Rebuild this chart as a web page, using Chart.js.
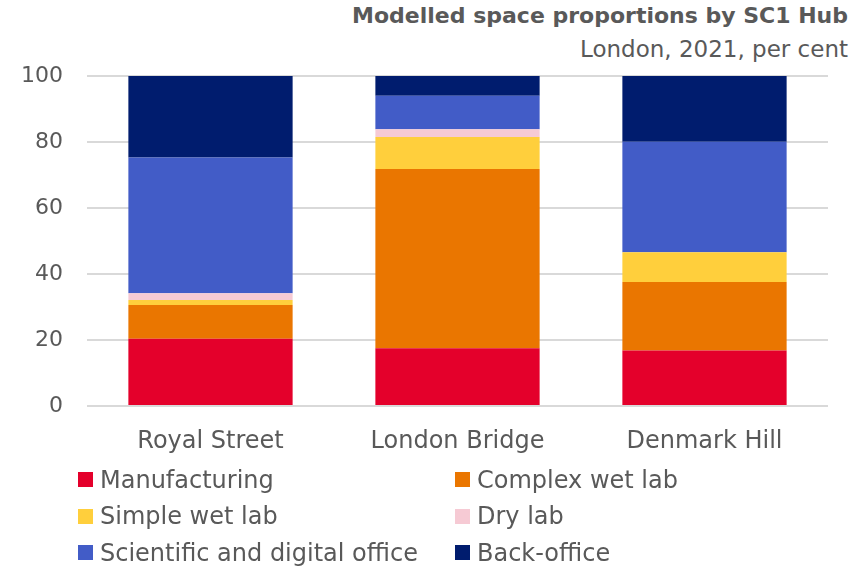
<!DOCTYPE html>
<html>
<head>
<meta charset="utf-8">
<script src="https://cdn.jsdelivr.net/npm/chart.js@4"></script>
<style>
  html, body { margin: 0; padding: 0; background: #fff; }
  body { width: 868px; height: 570px; position: relative; overflow: hidden;
         font-family: "DejaVu Sans", sans-serif; color: #595959; }
  #title { position: absolute; right: 20px; top: 3px; font-size: 22px; font-weight: bold; white-space: nowrap; }
  #subtitle { position: absolute; right: 20px; top: 36px; font-size: 23px; white-space: nowrap; }
  #wrap { position: absolute; left: 0; top: 0; width: 868px; height: 470px; }
  #legend { position: absolute; left: 78px; top: 465px; width: 780px;
            display: grid; grid-template-columns: 377px auto; row-gap: 7.5px; font-size: 24px; }
  #legend div { display: flex; align-items: center; height: 29px; white-space: nowrap; }
  #legend span.box { display: inline-block; width: 15px; height: 15px; margin-right: 7px; }
</style>
</head>
<body>
<div id="title">Modelled space proportions by SC1 Hub</div>
<div id="subtitle">London, 2021, per cent</div>
<div id="wrap"><canvas id="chart"></canvas></div>
<div id="legend"></div>
<script>
const hubs = ['Royal Street', 'London Bridge', 'Denmark Hill'];
const yTicks = [0, 20, 40, 60, 80, 100];

const manufacturing = [20.4, 17.5, 16.8];
const complexWetLab = [10.2, 54.3, 20.8];
const simpleWetLab = [1.5, 9.7, 9.0];
const dryLab = [2.1, 2.4, 0];
const scientificOffice = [41.1, 10.1, 33.5];
const backOffice = [24.7, 6.0, 19.9];

const seriesNames = ['Manufacturing', 'Complex wet lab', 'Simple wet lab', 'Dry lab',
                     'Scientific and digital office', 'Back-office'];
const seriesValues = [manufacturing, complexWetLab, simpleWetLab, dryLab, scientificOffice, backOffice];
const seriesColors = ['#E4002B', '#EA7600', '#FFCF3C', '#F6CAD4', '#425CC7', '#001C6E'];

const textColor = '#595959';
const fontFamily = '"DejaVu Sans", sans-serif';

const datasets = seriesNames.map((name, i) => ({
  label: name,
  data: seriesValues[i],
  backgroundColor: seriesColors[i],
  borderWidth: 0,
  categoryPercentage: 1,
  barPercentage: 0.665
}));

new Chart(document.getElementById('chart'), {
  type: 'bar',
  data: { labels: hubs, datasets: datasets },
  options: {
    responsive: true,
    maintainAspectRatio: false,
    animation: false,
    layout: { padding: { top: 76, right: 40, bottom: 0, left: 0 } },
    plugins: {
      legend: { display: false },
      tooltip: { enabled: false }
    },
    scales: {
      x: {
        stacked: true,
        grid: { display: false },
        border: { display: false },
        ticks: { color: textColor, font: { family: fontFamily, size: 24 }, padding: 13 },
        afterFit: (scale) => { scale.height = 64; }
      },
      y: {
        stacked: true,
        min: 0,
        max: 100,
        afterBuildTicks: (scale) => { scale.ticks = yTicks.map(v => ({ value: v })); },
        grid: { color: '#d9d9d9', lineWidth: 2, drawTicks: false },
        border: { display: false },
        ticks: { color: textColor, font: { family: fontFamily, size: 22 }, padding: 24 },
        afterFit: (scale) => { scale.width = 87; }
      }
    }
  }
});

// two-column legend, row by row
const legendEl = document.getElementById('legend');
seriesNames.forEach((name, i) => {
  const item = document.createElement('div');
  const box = document.createElement('span');
  box.className = 'box';
  box.style.background = seriesColors[i];
  item.appendChild(box);
  item.appendChild(document.createTextNode(name));
  legendEl.appendChild(item);
});
</script>
</body>
</html>
